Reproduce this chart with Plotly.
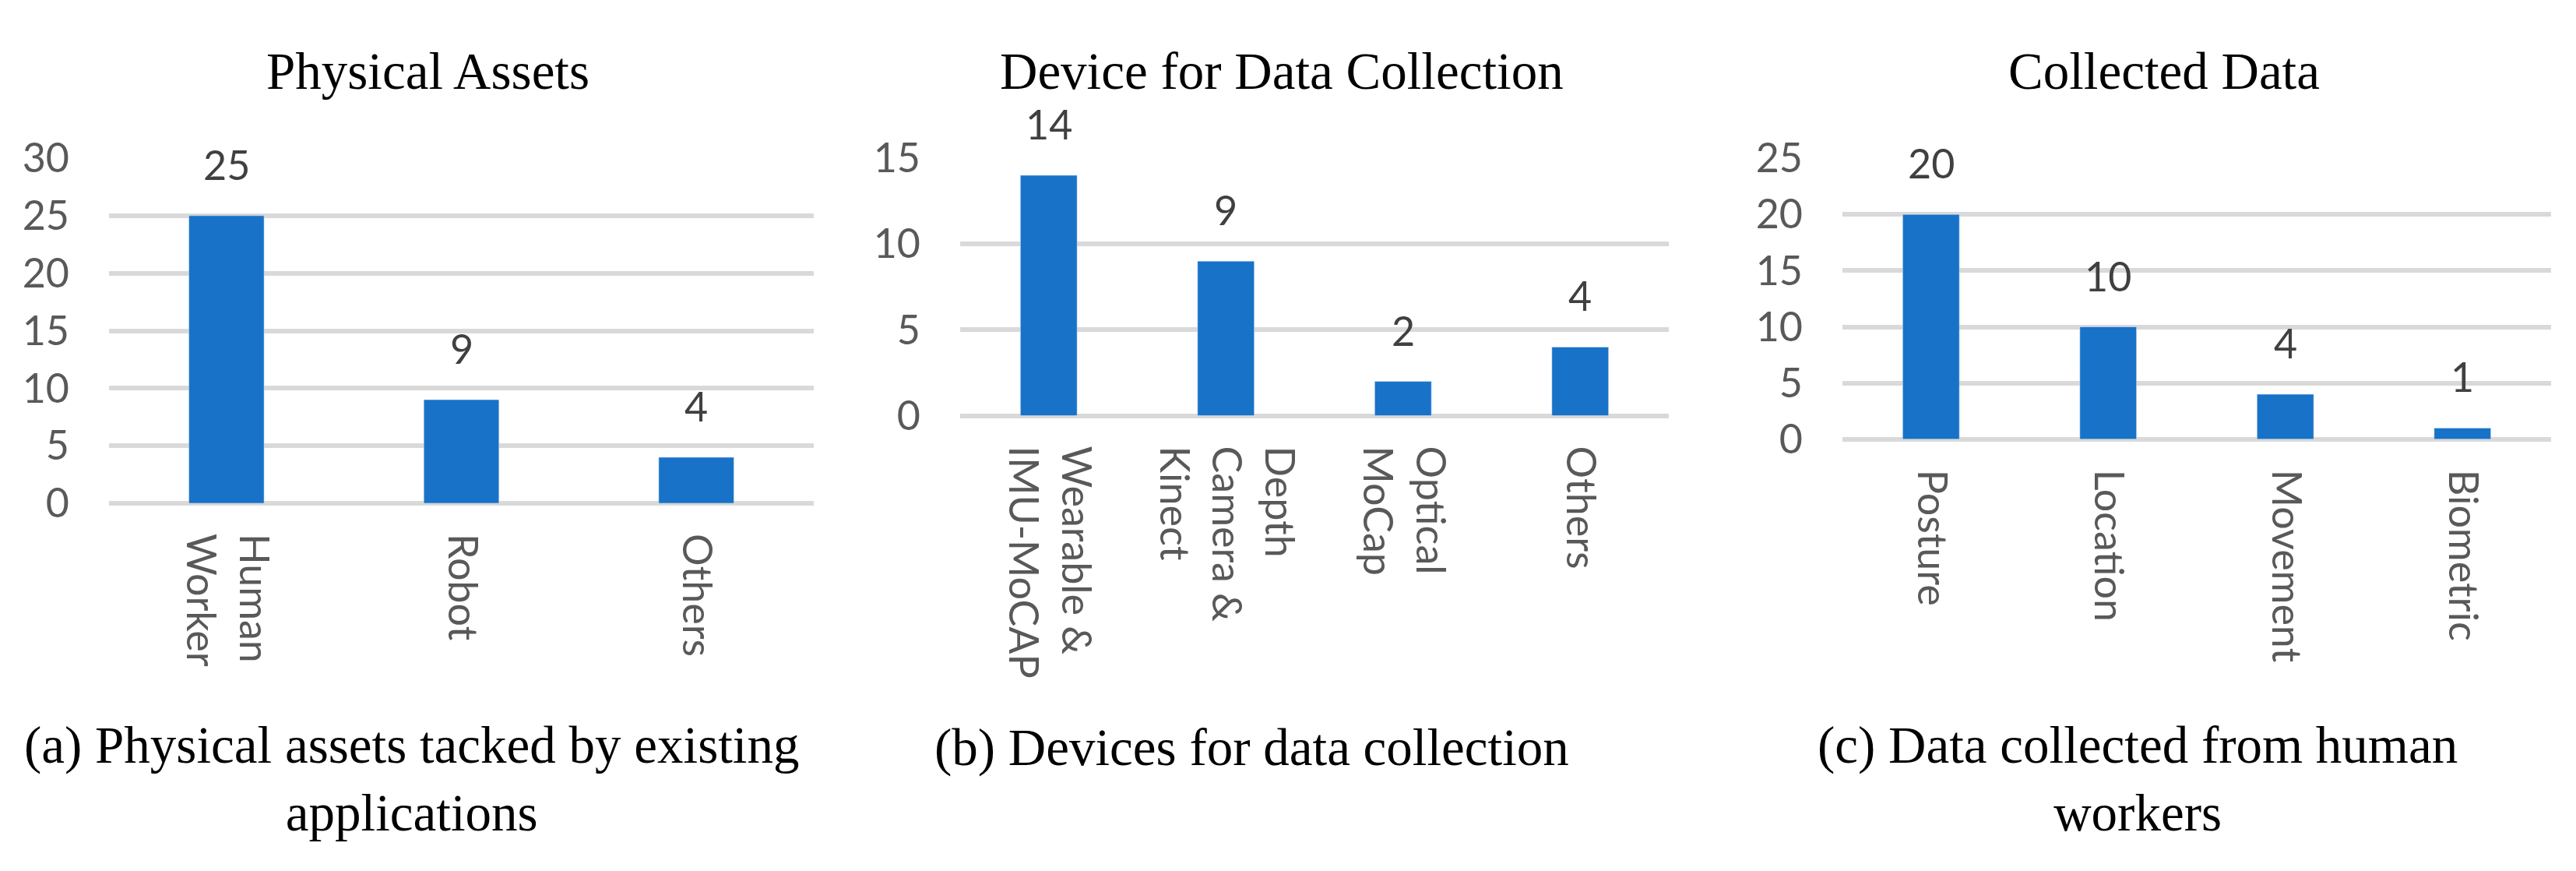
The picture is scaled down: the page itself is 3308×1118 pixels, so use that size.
"""Three-panel bar chart: physical assets, data collection devices, collected data."""

import plotly.graph_objects as go

W, H = 3308, 1118

# --- data -------------------------------------------------------------------
assets_labels = ["Human<br>Worker", "Robot", "Others"]
assets_counts = [25, 9, 4]

device_labels = ["Wearable &<br>IMU-MoCAP", "Depth<br>Camera &<br>Kinect", "Optical<br>MoCap", "Others"]
device_counts = [14, 9, 2, 4]

collected_labels = ["Posture", "Location", "Movement", "Biometric"]
collected_counts = [20, 10, 4, 1]

panel_titles = ["Physical Assets", "Device for Data Collection", "Collected Data"]
captions = [
    "(a) Physical assets tacked by existing<br>applications",
    "(b) Devices for data collection",
    "(c) Data collected from human<br>workers",
]
y_max = [30, 15, 25]

# --- style ------------------------------------------------------------------
BAR_COLOR = "#1872C8"
GRID_COLOR = "#D9D9D9"
SANS = "Lato"
SERIF = "Liberation Serif"


def px_x(x):
    return x / W


def px_y(y):
    return 1 - y / H


# plot areas in pixels: (left, right, top, zero-line)
areas = [(140, 1045, 180, 649), (1233, 2143, 180, 530), (2366, 3276, 180, 562)]
title_x = [549, 1646, 2779]
caption_x = [528, 1607, 2745]
caption_y = [1023, 981, 1023]

panels = [
    (assets_labels, assets_counts),
    (device_labels, device_counts),
    (collected_labels, collected_counts),
]

fig = go.Figure()
annotations = []
for i, ((labels, counts), (l, r, t, b)) in enumerate(zip(panels, areas)):
    n = i + 1
    xa = "x" if n == 1 else f"x{n}"
    ya = "y" if n == 1 else f"y{n}"
    fig.add_bar(
        x=labels,
        y=counts,
        width=0.32,
        marker_color=BAR_COLOR,
        xaxis=xa,
        yaxis=ya,
        showlegend=False,
        hoverinfo="x+y",
    )
    for lab, v in zip(labels, counts):
        annotations.append(dict(
            x=lab, y=v, xref=xa, yref=ya, text=str(v), showarrow=False,
            yanchor="middle", yshift=66,
            font=dict(family=SANS, size=52, color="#404040"),
        ))
    annotations.append(dict(
        x=px_x(title_x[i]), y=px_y(61), xref="paper", yref="paper",
        text=panel_titles[i], showarrow=False, xanchor="center", yanchor="middle",
        font=dict(family=SERIF, size=67, color="#000000"),
    ))
    annotations.append(dict(
        x=px_x(caption_x[i]), y=px_y(caption_y[i]), xref="paper", yref="paper",
        text=captions[i], showarrow=False, xanchor="center", yanchor="middle",
        font=dict(family=SERIF, size=67, color="#000000"),
    ))
    fig.layout[f"xaxis{'' if n == 1 else n}"] = dict(
        domain=[px_x(l), px_x(r)],
        anchor=ya,
        tickangle=90,
        ticklabelstandoff=38,
        showgrid=False,
        showline=False,
        zeroline=False,
        tickfont=dict(family=SANS, size=52, color="#595959"),
        fixedrange=True,
    )
    fig.layout[f"yaxis{'' if n == 1 else n}"] = dict(
        domain=[px_y(b), px_y(t)],
        anchor=xa,
        range=[0, y_max[i]],
        dtick=5,
        showgrid=True,
        gridcolor=GRID_COLOR,
        gridwidth=6,
        zeroline=True,
        zerolinecolor=GRID_COLOR,
        zerolinewidth=6,
        showline=False,
        ticklabelstandoff=50,
        tickfont=dict(family=SANS, size=52, color="#595959"),
        fixedrange=True,
    )

fig.update_layout(
    width=W,
    height=H,
    margin=dict(l=0, r=0, t=0, b=0),
    paper_bgcolor="white",
    plot_bgcolor="white",
    annotations=annotations,
    bargap=0.68,
)

fig.write_html(
    "out.html",
    config={"displayModeBar": False},
    post_script="document.body.style.margin='0';document.body.style.overflow='hidden';",
)
